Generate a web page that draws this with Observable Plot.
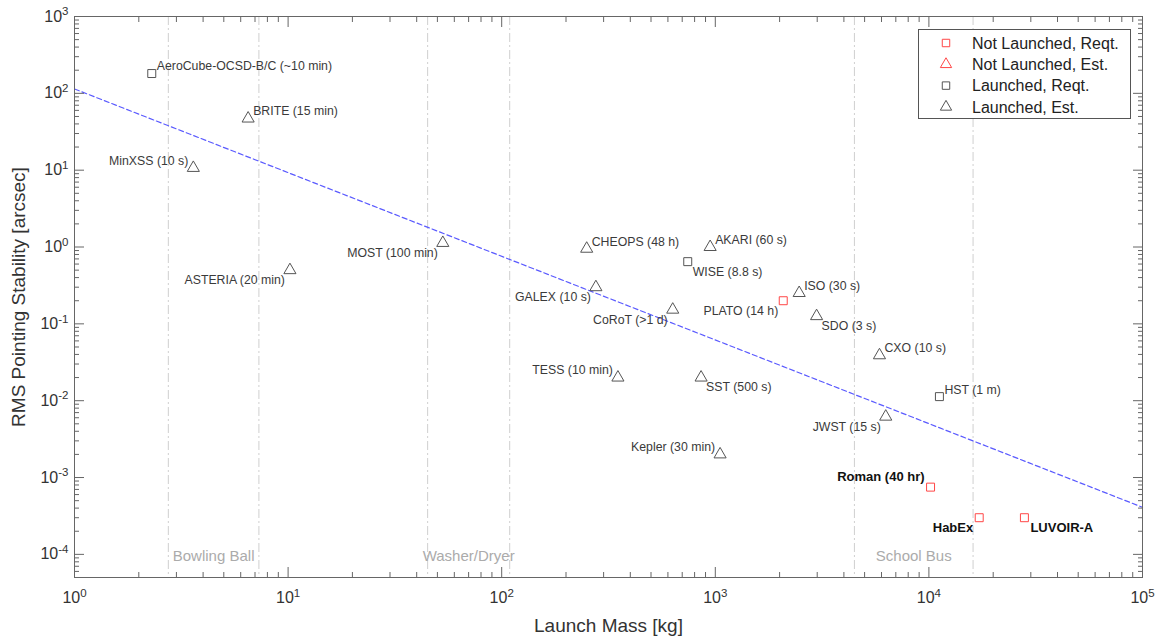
<!DOCTYPE html>
<html><head><meta charset="utf-8">
<script src="https://cdn.jsdelivr.net/npm/d3@7"></script>
<script src="https://cdn.jsdelivr.net/npm/@observablehq/plot@0.6"></script>
<style>
body{margin:0;background:#fff;}
#chart{width:1161px;height:640px;}
</style></head><body><div id="chart"></div>
<script>
// ---------- data ----------
const names = ["AeroCube-OCSD-B/C (~10 min)", "BRITE (15 min)", "MinXSS (10 s)", "ASTERIA (20 min)", "MOST (100 min)",
  "CHEOPS (48 h)", "GALEX (10 s)", "TESS (10 min)", "CoRoT (>1 d)", "WISE (8.8 s)", "SST (500 s)", "AKARI (60 s)",
  "Kepler (30 min)", "PLATO (14 h)", "ISO (30 s)", "SDO (3 s)", "CXO (10 s)", "JWST (15 s)", "Roman (40 hr)",
  "HST (1 m)", "HabEx", "LUVOIR-A"];
const mass = [2.3, 6.5, 3.6, 10.2, 53, 250, 276, 350, 632, 743, 858, 946, 1053, 2080, 2470, 2980, 5870, 6280, 10180, 11200, 17200, 28000];
const stability = [181, 47, 10.7, 0.5, 1.13, 0.95, 0.3, 0.02, 0.153, 0.645, 0.02, 1.0, 0.002, 0.2, 0.252, 0.126, 0.039, 0.0062, 0.00075, 0.0113, 0.0003, 0.0003];
const launched = ["Launched","Launched","Launched","Launched","Launched","Launched","Launched","Launched","Launched","Launched","Launched","Launched",
  "Launched","Not Launched","Launched","Launched","Launched","Launched","Not Launched","Launched","Not Launched","Not Launched"];
const kind = ["Reqt.","Est.","Est.","Est.","Est.","Est.","Est.","Est.","Est.","Reqt.","Est.","Est.",
  "Est.","Reqt.","Est.","Est.","Est.","Est.","Reqt.","Reqt.","Reqt.","Reqt."];
const emphasized = ["Roman (40 hr)", "HabEx", "LUVOIR-A"];

const fitMass = [1, 1e5];
const fitStability = [114, 4.1e-4];

const sizeNames = ["Bowling Ball", "Washer/Dryer", "School Bus"];
const sizeLo = [2.75, 45, 4480];
const sizeHi = [7.3, 109, 16100];

const legendLabels = ["Not Launched, Reqt.", "Not Launched, Est.", "Launched, Reqt.", "Launched, Est."];

const xMajor = [1, 10, 100, 1000, 10000, 100000];
const yMajor = [1e-4, 1e-3, 1e-2, 1e-1, 1, 10, 100, 1000];

// ---------- presentation ----------
const labelSide = ["tr","tr","tl","bl","bl","tr","bl","tl","bl","br","br","tr","tl","bl","tr","br","tr","bl","tl","tr","bl","br"];
const rows = names.map((n, i) => ({name: n, mass: mass[i], stab: stability[i], launched: launched[i], kind: kind[i], side: labelSide[i], bold: emphasized.includes(n)}));

const xMinor = d3.range(0, 5).flatMap(k => d3.range(2, 10).map(m => m * Math.pow(10, k)));
const yMinor = d3.range(-5, 3).flatMap(k => d3.range(2, 10).map(m => m * Math.pow(10, k))).filter(v => v > 5.01e-5);

const RED = "#ff4747", GRAY = "#555";
const FONT = "'Liberation Sans', Arial, Helvetica, sans-serif";
const AX = "#666";

const offs = {tr: {dx: 5, dy: -7, a: "start"}, tl: {dx: -5, dy: -7, a: "end"}, br: {dx: 5, dy: 10, a: "start"}, bl: {dx: -5, dy: 10, a: "end"}};
const textMarks = Object.entries(offs).flatMap(([k, o]) => [
  Plot.text(rows.filter(r => r.side === k && !r.bold), {x: "mass", y: "stab", text: "name", dx: o.dx, dy: o.dy, textAnchor: o.a, lineAnchor: "middle", fontSize: 12.3, fill: "#3a3a3a"}),
  Plot.text(rows.filter(r => r.side === k && r.bold), {x: "mass", y: "stab", text: "name", dx: o.dx * 1.2, dy: o.dy + (k[0] === "t" ? -3 : 0), textAnchor: o.a, lineAnchor: "middle", fontSize: 13, fontWeight: "bold", fill: "#111"})
]);

const expFmt = d => "10^" + Math.round(Math.log10(d));

const plot = Plot.plot({
  width: 1161, height: 640,
  marginLeft: 74, marginRight: 19, marginTop: 16, marginBottom: 63,
  style: {fontFamily: FONT, background: "white", color: "#333", overflow: "visible"},
  x: {type: "log", domain: [1, 1e5]},
  y: {type: "log", domain: [5e-5, 1e3]},
  marks: [
    Plot.ruleX(sizeLo.concat(sizeHi), {stroke: "#cfcfcf", strokeDasharray: "9,3,2,3"}),
    Plot.text(sizeNames, {x: (d, i) => Math.sqrt(sizeLo[i] * sizeHi[i]), frameAnchor: "bottom", dy: -21, lineAnchor: "middle", fill: "#ababab", fontSize: 15}),
    Plot.line(fitMass.map((m, i) => ({m, s: fitStability[i]})), {x: "m", y: "s", stroke: "#5a5aff", strokeWidth: 1.2, strokeDasharray: "5,3"}),
    Plot.frame({stroke: AX}),
    Plot.axisX({anchor: "bottom", ticks: xMajor, tickSize: 10, dy: -10, fill: "none", stroke: AX}),
    Plot.axisX({anchor: "bottom", ticks: xMinor, tickSize: 5, dy: -5, fill: "none", stroke: AX}),
    Plot.axisX({anchor: "top", ticks: xMajor, tickSize: 10, dy: 10, fill: "none", stroke: AX}),
    Plot.axisX({anchor: "top", ticks: xMinor, tickSize: 5, dy: 5, fill: "none", stroke: AX}),
    Plot.axisY({anchor: "left", ticks: yMajor, tickSize: 10, dx: 10, fill: "none", stroke: AX}),
    Plot.axisY({anchor: "left", ticks: yMinor, tickSize: 5, dx: 5, fill: "none", stroke: AX}),
    Plot.axisY({anchor: "right", ticks: yMajor, tickSize: 10, dx: -10, fill: "none", stroke: AX}),
    Plot.axisY({anchor: "right", ticks: yMinor, tickSize: 5, dx: -5, fill: "none", stroke: AX}),
    Plot.axisX({anchor: "bottom", ticks: xMajor, tickSize: 0, tickPadding: 14, tickFormat: expFmt, fontSize: 16, fill: "#333",
      label: "Launch Mass [kg]", labelAnchor: "center", labelArrow: "none", labelOffset: 54}),
    Plot.axisY({anchor: "left", ticks: yMajor, tickSize: 0, tickPadding: 6, tickFormat: expFmt, fontSize: 16, fill: "#333",
      label: "RMS Pointing Stability [arcsec]", labelAnchor: "center", labelArrow: "none", labelOffset: 63}),
    Plot.dot(rows.filter(r => r.launched === "Launched" && r.kind === "Est."), {x: "mass", y: "stab", symbol: "triangle", r: 4.5, stroke: GRAY, strokeWidth: 1}),
    Plot.dot(rows.filter(r => r.launched === "Launched" && r.kind === "Reqt."), {x: "mass", y: "stab", symbol: "square", r: 4.5, stroke: GRAY, strokeWidth: 1}),
    Plot.dot(rows.filter(r => r.launched === "Not Launched" && r.kind === "Reqt."), {x: "mass", y: "stab", symbol: "square", r: 4.5, stroke: RED, strokeWidth: 1}),
    Plot.dot(rows.filter(r => r.launched === "Not Launched" && r.kind === "Est."), {x: "mass", y: "stab", symbol: "triangle", r: 4.5, stroke: RED, strokeWidth: 1}),
    ...textMarks
  ]
});

const svg = d3.select(plot);
// superscript exponents on tick labels
svg.selectAll('g[aria-label="x-axis tick label"] text, g[aria-label="y-axis tick label"] text').each(function () {
  const t = this.textContent;
  const parts = t.split("^");
  if (parts.length !== 2) return;
  const sel = d3.select(this);
  sel.text(null);
  sel.append("tspan").text(parts[0]);
  sel.append("tspan").attr("dy", "-0.55em").attr("font-size", "0.72em").text(parts[1]);
});
svg.selectAll('g[aria-label="x-axis label"], g[aria-label="y-axis label"]').attr("font-size", 19).attr("fill", "#333");

// legend
const lg = svg.append("g").attr("font-family", FONT).attr("font-size", 16).attr("text-anchor", "start");
lg.append("rect").attr("x", 918.5).attr("y", 29.5).attr("width", 212).attr("height", 89).attr("fill", "white").attr("stroke", "#555");
const legendSym = [d3.symbolSquare, d3.symbolTriangle, d3.symbolSquare, d3.symbolTriangle];
const legendCol = [RED, RED, GRAY, GRAY];
legendLabels.forEach((lab, i) => {
  const cy = 43 + i * 21.3;
  lg.append("path").attr("d", d3.symbol(legendSym[i], Math.PI * 4.2 * 4.2)()).attr("transform", `translate(946,${cy})`)
    .attr("fill", "none").attr("stroke", legendCol[i]);
  lg.append("text").attr("x", 972).attr("y", cy).attr("dy", "0.35em").attr("fill", "#222").text(lab);
});

document.getElementById("chart").appendChild(plot);
</script></body></html>
